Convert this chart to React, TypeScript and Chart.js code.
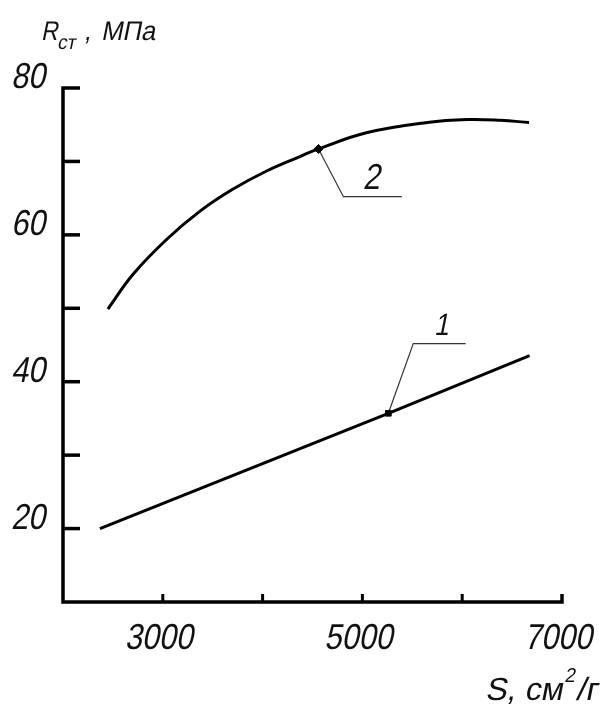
import React, { useEffect, useRef } from "react";
import { Chart, registerables } from "chart.js";

Chart.register(...registerables);

// ---- axes ----
const xMin = 2000;
const xMax = 7000;
const yMin = 10;
const yMax = 80;
const xTicks = [3000, 4000, 5000, 6000, 7000];
const xTickLabels = [3000, 5000, 7000];
const yTicks = [20, 30, 40, 50, 60, 70, 80];
const yTickLabels = [20, 40, 60, 80];

// ---- curve 1 (straight line) ----
const s1 = [2370, 5260, 6675];
const r1 = [20.0, 35.7, 43.55];
const marker1 = 1;

// ---- curve 2 ----
const s2 = [2450, 2700, 3040, 3370, 3700, 4040, 4380, 4560, 5040, 5650, 6050, 6380, 6670];
const r2 = [49.9, 54.6, 59.4, 63.2, 66.2, 68.7, 70.7, 71.7, 73.9, 75.3, 75.7, 75.6, 75.3];
const marker2 = 7;

// ---- leaders & curve labels (data space) ----
const leader1X = [5260, 5510, 6035];
const leader1Y = [35.7, 45.2, 45.2];
const leader2X = [4560, 4810, 5395];
const leader2Y = [71.7, 65.2, 65.2];
const curveLabels = ["1", "2"];
const curveLabelX = [5790, 5090];
const curveLabelY = [46.4, 66.2];
const curveLabelSize = [31, 36];

const FONT = "'Liberation Sans', 'DejaVu Sans', sans-serif";

function drawText(
  ctx: CanvasRenderingContext2D,
  s: string,
  x: number,
  y: number,
  size: number,
  align: "left" | "right" | "center",
  sx = 0.85
): number {
  ctx.save();
  ctx.font = `${size}px ${FONT}`;
  ctx.textBaseline = "alphabetic";
  ctx.textAlign = "left";
  const w = ctx.measureText(s).width * sx;
  const x0 = align === "right" ? x - w : align === "center" ? x - w / 2 : x;
  ctx.translate(x0, y);
  ctx.transform(sx, 0, -0.2, 1, 0, 0);
  ctx.fillStyle = "#111";
  ctx.fillText(s, 0, 0);
  ctx.restore();
  return w;
}

const drawingPlugin = {
  id: "drawing",
  afterDraw(chart: any) {
    const ctx: CanvasRenderingContext2D = chart.ctx;
    const { left, bottom } = chart.chartArea;
    const xs = chart.scales.x;
    const ys = chart.scales.y;
    const yTop = ys.getPixelForValue(yMax);
    const xRight = xs.getPixelForValue(xMax);

    ctx.save();
    ctx.strokeStyle = "#000";
    ctx.lineJoin = "miter";
    ctx.lineCap = "butt";
    ctx.lineWidth = 3.5;
    ctx.beginPath();
    ctx.moveTo(left + 17, yTop);
    ctx.lineTo(left, yTop);
    ctx.lineTo(left, bottom);
    ctx.lineTo(xRight, bottom);
    ctx.lineTo(xRight, bottom - 8);
    ctx.stroke();

    ctx.lineWidth = 3.5;
    yTicks.forEach((v) => {
      if (v === yMax) return;
      const py = ys.getPixelForValue(v);
      ctx.beginPath();
      ctx.moveTo(left, py);
      ctx.lineTo(left + 17, py);
      ctx.stroke();
    });
    ctx.lineWidth = 3;
    xTicks.forEach((v) => {
      if (v === xMax) return;
      const px = xs.getPixelForValue(v);
      ctx.beginPath();
      ctx.moveTo(px, bottom);
      ctx.lineTo(px, bottom - 8);
      ctx.stroke();
    });
    ctx.restore();

    // tick labels
    yTickLabels.forEach((v) => {
      drawText(ctx, String(v), left - 18, ys.getPixelForValue(v), 36, "right");
    });
    xTickLabels.forEach((v) => {
      drawText(ctx, String(v), xs.getPixelForValue(v) - 4, bottom + 47, 36, "center");
    });

    // curve labels
    curveLabels.forEach((t, i) => {
      drawText(
        ctx,
        t,
        xs.getPixelForValue(curveLabelX[i]),
        ys.getPixelForValue(curveLabelY[i]),
        curveLabelSize[i],
        "center"
      );
    });

    // y axis title: R_ст, МПа
    drawText(ctx, "R", 41, 40, 27, "left", 0.85);
    drawText(ctx, "ст", 57, 49, 20, "left", 0.95);
    drawText(ctx, ",", 84, 40, 27, "left", 0.9);
    drawText(ctx, "МПа", 101, 40, 27, "left", 0.95);

    // x axis title: S, см²/г
    let cx = 485;
    cx += drawText(ctx, "S, см", cx, 700, 32, "left", 1.0);
    cx += 2;
    cx += drawText(ctx, "2", cx, 682, 20, "left", 0.95);
    cx += 1;
    drawText(ctx, "/г", cx, 700, 32, "left", 1.05);
  },
};

export default function App() {
  const ref = useRef<HTMLCanvasElement | null>(null);

  useEffect(() => {
    if (!ref.current) return;
    const chart = new Chart(ref.current, {
      type: "scatter",
      data: {
        datasets: [
          {
            data: s1.map((x, i) => ({ x, y: r1[i] })),
            showLine: true,
            borderColor: "#000",
            borderWidth: 3,
            tension: 0,
            pointStyle: "rect",
            pointRadius: (c: any) => (c.dataIndex === marker1 ? 4 : 0),
            pointBackgroundColor: "#000",
            pointBorderColor: "#000",
            pointBorderWidth: 1,
          },
          {
            data: s2.map((x, i) => ({ x, y: r2[i] })),
            showLine: true,
            borderColor: "#000",
            borderWidth: 3,
            tension: 0.4,
            pointStyle: "rectRot",
            pointRadius: (c: any) => (c.dataIndex === marker2 ? 4.5 : 0),
            pointBackgroundColor: "#000",
            pointBorderColor: "#000",
            pointBorderWidth: 1,
          },
          {
            data: leader1X.map((x, i) => ({ x, y: leader1Y[i] })),
            showLine: true,
            borderColor: "#333",
            borderWidth: 1.2,
            pointRadius: 0,
            tension: 0,
          },
          {
            data: leader2X.map((x, i) => ({ x, y: leader2Y[i] })),
            showLine: true,
            borderColor: "#333",
            borderWidth: 1.2,
            pointRadius: 0,
            tension: 0,
          },
        ],
      },
      options: {
        animation: false,
        responsive: false,
        events: [],
        layout: { padding: { left: 63, right: 41, top: 88, bottom: 102 } },
        scales: {
          x: { type: "linear", min: xMin, max: xMax, display: false },
          y: { type: "linear", min: yMin, max: yMax, display: false },
        },
        plugins: {
          legend: { display: false },
          tooltip: { enabled: false },
        },
      },
      plugins: [drawingPlugin],
    } as any);
    return () => chart.destroy();
  }, []);

  return (
    <canvas
      ref={ref}
      width={603}
      height={704}
      style={{ position: "absolute", left: 0, top: 0, width: 603, height: 704 }}
    />
  );
}
